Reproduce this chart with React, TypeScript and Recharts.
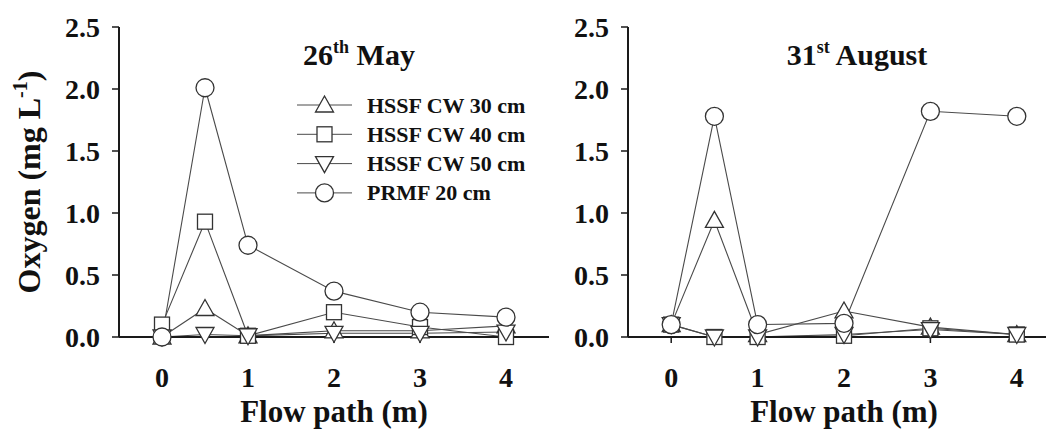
import React from 'react';
import { LineChart, Line, XAxis, YAxis, Legend } from 'recharts';

const FONT = '"Liberation Serif", "Times New Roman", serif';
const INK = '#111';
const AXIS = '#1a1a1a';
const LINE = '#4a4a4a';
const MARK = '#333';

// categories (flow path, m)
const flowPath = [0, 0.5, 1, 2, 3, 4];
const xTicks = [0, 1, 2, 3, 4];
const yTicks = [0, 0.5, 1, 1.5, 2, 2.5];
const seriesNames = ['HSSF CW 30 cm', 'HSSF CW 40 cm', 'HSSF CW 50 cm', 'PRMF 20 cm'];

// 26th May
const mayHSSF30 = [0.0, 0.23, 0.01, 0.05, 0.05, 0.09];
const mayHSSF40 = [0.1, 0.93, 0.01, 0.2, 0.08, 0.0];
const mayHSSF50 = [0.0, 0.02, 0.01, 0.03, 0.03, 0.04];
const mayPRMF20 = [0.0, 2.01, 0.74, 0.37, 0.2, 0.16];

// 31st August
const augHSSF30 = [0.1, 0.94, 0.02, 0.21, 0.08, 0.02];
const augHSSF40 = [0.1, 0.0, 0.0, 0.01, 0.07, 0.02];
const augHSSF50 = [0.1, 0.0, 0.0, 0.02, 0.06, 0.02];
const augPRMF20 = [0.1, 1.78, 0.1, 0.11, 1.82, 1.78];

const build = (a: number[], b: number[], c: number[], d: number[]) =>
  flowPath.map((x, i) => ({ x, s30: a[i], s40: b[i], s50: c[i], prmf: d[i] }));

const mayData = build(mayHSSF30, mayHSSF40, mayHSSF50, mayPRMF20);
const augData = build(augHSSF30, augHSSF40, augHSSF50, augPRMF20);

const TriUp = ({ cx, cy }: any) => (
  <polygon points={`${cx},${cy - 9} ${cx - 9},${cy + 7} ${cx + 9},${cy + 7}`} fill="#fff" stroke={MARK} strokeWidth={1.3} />
);
const TriDown = ({ cx, cy }: any) => (
  <polygon points={`${cx},${cy + 9} ${cx - 9},${cy - 7} ${cx + 9},${cy - 7}`} fill="#fff" stroke={MARK} strokeWidth={1.3} />
);
const Sq = ({ cx, cy }: any) => (
  <rect x={cx - 7.5} y={cy - 7.5} width={15} height={15} fill="#fff" stroke={MARK} strokeWidth={1.3} />
);
const Circ = ({ cx, cy }: any) => <circle cx={cx} cy={cy} r={9} fill="#fff" stroke={MARK} strokeWidth={1.3} />;

const markers = [TriUp, Sq, TriDown, Circ];
const keys = ['s30', 's40', 's50', 'prmf'];

const makeDot = (M: any) => (p: any) => {
  if (p.cx == null || p.cy == null) return <g key={`n-${p.index}`} />;
  return <M key={`d-${p.index}`} cx={p.cx} cy={p.cy} />;
};

const textProps = { fontFamily: FONT, fontWeight: 'bold' as const, fill: INK };

const XTick = (p: any) => (
  <text x={p.x} y={387} textAnchor="middle" fontSize={28} {...textProps}>
    {p.payload.value}
  </text>
);

const makeYTick = (axisX: number) => (p: any) => (
  <text x={axisX - 19} y={p.y + 10} textAnchor="end" fontSize={28} {...textProps}>
    {Number(p.payload.value).toFixed(1)}
  </text>
);

const makeXTitle = (cx: number) => () => (
  <text x={cx} y={422} textAnchor="middle" fontSize={31} {...textProps}>
    Flow path (m)
  </text>
);

const makeYLabel = (showYTitle: boolean, titleX: number, main: string, sup: string, rest: string) => () => (
  <g>
    {showYTitle && (
      <text transform="translate(40,182) rotate(-90)" textAnchor="middle" fontSize={32} {...textProps}>
        Oxygen (mg L<tspan dy={-13} fontSize={20}>-1</tspan>
        <tspan dy={13}>)</tspan>
      </text>
    )}
    <text x={titleX} y={65} textAnchor="middle" fontSize={30} {...textProps}>
      {main}
      <tspan dy={-12} fontSize={18}>{sup}</tspan>
      <tspan dy={12}>{rest}</tspan>
    </text>
  </g>
);

const LegendBox = () => (
  <svg width={260} height={120} style={{ display: 'block', overflow: 'visible' }}>
    {seriesNames.map((name, i) => {
      const y = 15 + i * 29.3;
      const M = markers[i];
      return (
        <g key={name}>
          <line x1={7} x2={62} y1={y} y2={y} stroke={LINE} strokeWidth={1} />
          <M cx={34.5} cy={y} />
          <text x={77} y={y + 7.5} fontSize={22} {...textProps}>
            {name}
          </text>
        </g>
      );
    })}
  </svg>
);

const Panel = ({ data, width, yAxisWidth, marginRight, xTitleX, yLabel, showLegend }: any) => (
  <LineChart
    width={width}
    height={431}
    data={data}
    margin={{ top: 27, right: marginRight, bottom: 34, left: 0 }}
  >
    <XAxis
      dataKey="x"
      type="number"
      domain={[-0.5, 4.5]}
      ticks={xTicks}
      height={60}
      tickSize={6}
      tickLine={{ stroke: AXIS, strokeWidth: 1.5 }}
      axisLine={{ stroke: AXIS, strokeWidth: 2 }}
      tick={XTick}
      interval={0}
      label={makeXTitle(xTitleX)}
    />
    <XAxis
      xAxisId="top"
      orientation="top"
      type="number"
      domain={[-0.5, 4.5]}
      height={0}
      tick={false}
      tickLine={false}
      axisLine={{ stroke: AXIS, strokeWidth: 1.5 }}
    />
    <YAxis
      type="number"
      domain={[0, 2.5]}
      ticks={yTicks}
      width={yAxisWidth}
      tickSize={7}
      tickLine={{ stroke: AXIS, strokeWidth: 1.5 }}
      axisLine={{ stroke: AXIS, strokeWidth: 2 }}
      tick={makeYTick(yAxisWidth)}
      interval={0}
      label={yLabel}
    />
    <YAxis
      yAxisId="r"
      orientation="right"
      type="number"
      domain={[0, 2.5]}
      width={0}
      tick={false}
      tickLine={false}
      axisLine={{ stroke: AXIS, strokeWidth: 1.5 }}
    />
    {showLegend && (
      <Legend
        layout="vertical"
        align="center"
        verticalAlign="middle"
        content={() => <LegendBox />}
        wrapperStyle={{ position: 'absolute', left: 290, top: 90, width: 260, height: 120 }}
      />
    )}
    {keys.map((k, i) => (
      <Line
        key={k}
        dataKey={k}
        name={seriesNames[i]}
        type="linear"
        stroke={LINE}
        strokeWidth={1.1}
        dot={makeDot(markers[i])}
        activeDot={false}
        isAnimationActive={false}
      />
    ))}
  </LineChart>
);

export default function App() {
  return (
    <div
      style={{
        position: 'fixed',
        left: 0,
        top: 0,
        width: 1046,
        height: 431,
        overflow: 'hidden',
        background: '#fff',
      }}
    >
      <div style={{ position: 'absolute', left: 0, top: 0 }}>
        <Panel
          data={mayData}
          width={560}
          yAxisWidth={119}
          marginRight={11}
          xTitleX={334}
          yLabel={makeYLabel(true, 359, '26', 'th', ' May')}
          showLegend
        />
      </div>
      <div style={{ position: 'absolute', left: 560, top: 0 }}>
        <Panel
          data={augData}
          width={510}
          yAxisWidth={68}
          marginRight={10}
          xTitleX={284}
          yLabel={makeYLabel(false, 297, '31', 'st', ' August')}
          showLegend={false}
        />
      </div>
    </div>
  );
}
